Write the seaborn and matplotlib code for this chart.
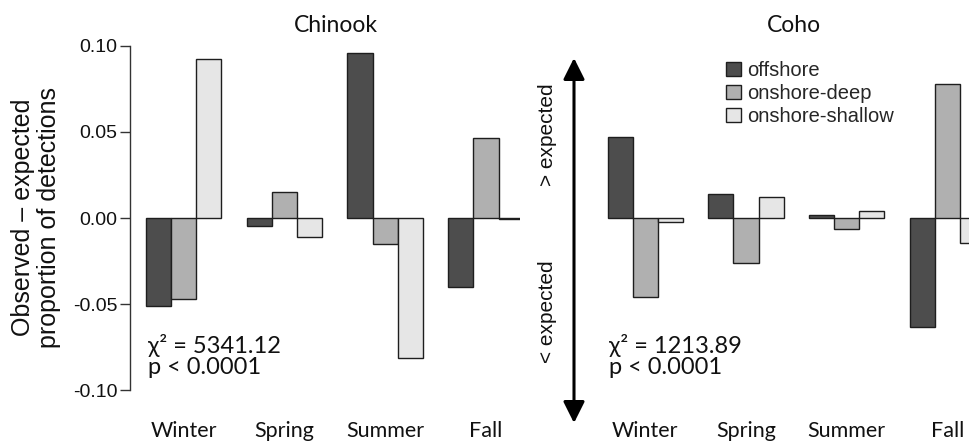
import matplotlib
matplotlib.use("Agg")
import matplotlib.pyplot as plt
import numpy as np
import pandas as pd
import seaborn as sns
from matplotlib.patches import Patch, FancyArrowPatch
from matplotlib.ticker import FormatStrFormatter

# Observed minus expected proportion of detections, by season and habitat
seasons = ["Winter", "Spring", "Summer", "Fall"]
habitats = ["offshore", "onshore-deep", "onshore-shallow"]

chinook_offshore = [-0.0510, -0.0047, 0.0958, -0.0401]
chinook_deep = [-0.0473, 0.0153, -0.0153, 0.0467]
chinook_shallow = [0.0927, -0.0108, -0.0812, -0.0005]

coho_offshore = [0.0473, 0.0138, 0.0017, -0.0634]
coho_deep = [-0.0457, -0.0262, -0.0066, 0.0781]
coho_shallow = [-0.0021, 0.0122, 0.0041, -0.0147]

species = ["Chinook", "Coho"]
chi_sq = ["5341.12", "1213.89"]
p_text = "p < 0.0001"
y_ticks = [-0.10, -0.05, 0.00, 0.05, 0.10]

bar_colors = ["#4d4d4d", "#b0b0b0", "#e6e6e6"]
edge = "#1e1e1e"


def long_table(off, deep, shallow):
    rows = []
    for vals, hab in zip([off, deep, shallow], habitats):
        for s, v in zip(seasons, vals):
            rows.append({"season": s, "habitat": hab, "value": v})
    return pd.DataFrame(rows)


df_chinook = long_table(chinook_offshore, chinook_deep, chinook_shallow)
df_coho = long_table(coho_offshore, coho_deep, coho_shallow)

sns.set_theme(style="white")
plt.rcParams["font.family"] = ["Liberation Sans", "DejaVu Sans"]
calibri_like = ["Lato", "DejaVu Sans"]

W, H = 970, 448
fig = plt.figure(figsize=(W / 100, H / 100), dpi=100)


def fx(x):
    return x / W


def fy(y):
    return 1 - y / H


ax1 = fig.add_axes([fx(130), fy(390), (520 - 130) / W, (390 - 46) / H])
ax2 = fig.add_axes([fx(574), fy(390), (970 - 574) / W, (390 - 46) / H])

for ax, df in [(ax1, df_chinook), (ax2, df_coho)]:
    sns.barplot(data=df, x="season", y="value", hue="habitat",
                order=seasons, hue_order=habitats, palette=bar_colors,
                saturation=1, width=0.75, edgecolor=edge, linewidth=1,
                errorbar=None, legend=False, ax=ax)
    ax.set_ylim(-0.10, 0.10)
    ax.set_xlabel("")
    ax.set_ylabel("")
    ax.set_xticks(range(len(seasons)))
    ax.set_xticklabels(seasons, family=calibri_like, fontsize=15.5)
    ax.tick_params(axis="x", length=0, pad=22, colors="#111111")
    for sp in ["top", "right", "bottom"]:
        ax.spines[sp].set_visible(False)
    ax.patch.set_alpha(0)

ax1.set_xlim((130 - 183.7) / 100.8, (520 - 183.7) / 100.8)
ax2.set_xlim((574 - 645.3) / 100.7, (970 - 645.3) / 100.7)

ax1.set_yticks(y_ticks)
ax1.yaxis.set_major_formatter(FormatStrFormatter("%.2f"))
ax1.tick_params(axis="y", length=7.2, width=1, pad=2, labelsize=14,
                colors="#333333", labelcolor="#111111", left=True)
ax1.spines["left"].set_color("#333333")
ax1.spines["left"].set_linewidth(1)

ax2.set_yticks([])
ax2.spines["left"].set_visible(False)

# panel titles
fig.text(fx(336), fy(25), species[0], ha="center", va="center",
         family=calibri_like, fontsize=16.5, color="#111111")
fig.text(fx(794), fy(25), species[1], ha="center", va="center",
         family=calibri_like, fontsize=16.5, color="#111111")

# y-axis label
fig.text(fx(36), fy(217), "Observed – expected\nproportion of detections",
         rotation=90, ha="center", va="center", fontsize=18,
         linespacing=1.1, color="#111111")

# chi-square annotations
for x0, chi in [(148, chi_sq[0]), (609, chi_sq[1])]:
    fig.text(fx(x0), fy(356), f"χ² = {chi}\n{p_text}", ha="left", va="center",
             family=calibri_like, fontsize=17, linespacing=1.0,
             color="#111111")

# direction arrow between panels
arrow = FancyArrowPatch((fx(574), fy(58)), (fx(574), fy(423)),
                        transform=fig.transFigure,
                        arrowstyle="<|-|>,head_length=1,head_width=0.5",
                        mutation_scale=13, lw=2.2, color="black",
                        shrinkA=0, shrinkB=0)
fig.add_artist(arrow)
fig.text(fx(548), fy(135), "> expected", rotation=90, ha="center",
         va="center", fontsize=15, color="#111111")
fig.text(fx(548), fy(312), "< expected", rotation=90, ha="center",
         va="center", fontsize=15, color="#111111")

# legend
handles = [Patch(facecolor=c, edgecolor=edge, linewidth=1, label=h)
           for c, h in zip(bar_colors, habitats)]
ax2.legend(handles=handles, loc="upper left",
           bbox_to_anchor=(fx(726), fy(61)), bbox_transform=fig.transFigure,
           frameon=False, prop={"family": "Liberation Sans", "size": 14.5},
           handlelength=0.75, handleheight=0.75, handletextpad=0.3,
           labelspacing=0.2, borderpad=0, borderaxespad=0)

fig.savefig("out.png", dpi=100, facecolor="white")
